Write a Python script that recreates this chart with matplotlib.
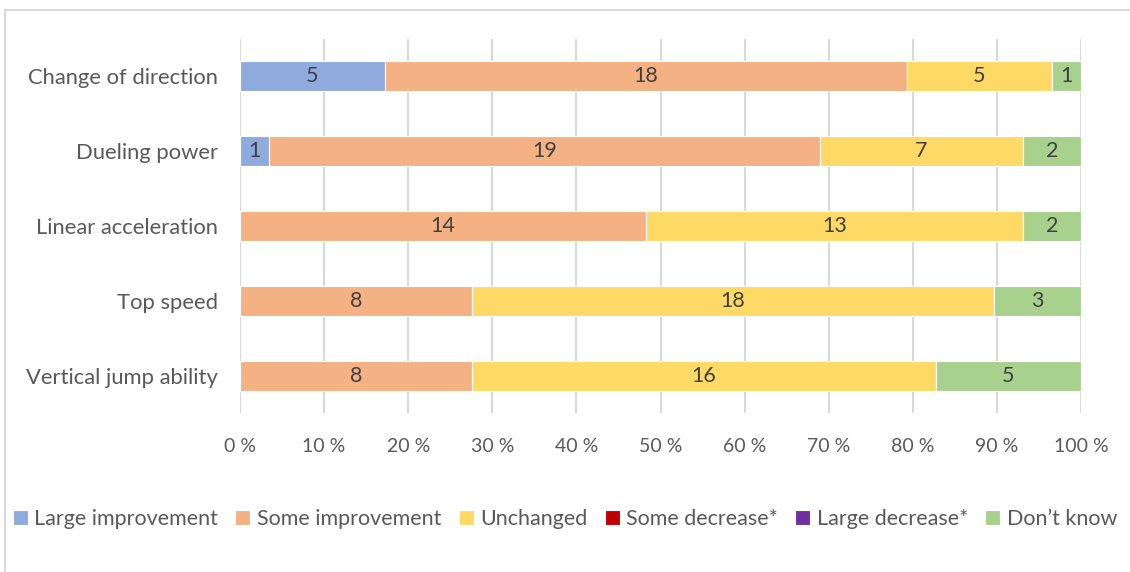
import numpy as np
import matplotlib.pyplot as plt
from matplotlib.patches import Rectangle

plt.rcParams['font.family'] = ['Lato', 'DejaVu Sans']

# --- Survey counts per attribute (top to bottom)
categories = ["Change of direction", "Dueling power", "Linear acceleration",
              "Top speed", "Vertical jump ability"]
series_names = ["Large improvement", "Some improvement", "Unchanged",
                "Some decrease*", "Large decrease*", "Don\u2019t know"]
large_improvement = [5, 1, 0, 0, 0]
some_improvement = [18, 19, 14, 8, 8]
unchanged = [5, 7, 13, 18, 16]
some_decrease = [0, 0, 0, 0, 0]
large_decrease = [0, 0, 0, 0, 0]
dont_know = [1, 2, 2, 3, 5]
tick_labels = ["0 %", "10 %", "20 %", "30 %", "40 %", "50 %",
               "60 %", "70 %", "80 %", "90 %", "100 %"]

colors = ["#8FAADC", "#F4B183", "#FFD966", "#C00000", "#7030A0", "#A9D18E"]

counts = np.array([large_improvement, some_improvement, unchanged,
                   some_decrease, large_decrease, dont_know], dtype=float)
totals = counts.sum(axis=0)
shares = counts / totals

fig = plt.figure(figsize=(11.3, 5.72), dpi=100)
ax = fig.add_axes([240 / 1130, 1 - 413 / 572, 841 / 1130, 374 / 572])

# chart frame
fig.add_artist(Rectangle((5 / 1130, -0.01), 1.1, 1 - 10 / 572 + 0.01,
                         transform=fig.transFigure, fill=False,
                         edgecolor="#D9D9D9", linewidth=1.5))

y = np.arange(len(categories))
left = np.zeros(len(categories))
for name, share, cnt, col in zip(series_names, shares, counts, colors):
    ax.barh(y, share, left=left, height=0.4, color=col, edgecolor="white",
            linewidth=0.8, label=name, zorder=3)
    for yi, l, s, c in zip(y, left, share, cnt):
        if c > 0:
            ax.text(l + s / 2, yi, f"{int(c)}", ha="center", va="center",
                    fontsize=15.5, color="#404040", zorder=4)
    left += share

ax.set_xlim(0, 1)
ax.set_ylim(len(categories) - 0.5, -0.5)
ax.set_yticks(y)
ax.set_yticklabels(categories, fontsize=15.8, color="#595959")
ax.set_xticks(np.linspace(0, 1, 11))
ax.set_xticklabels(tick_labels, fontsize=14, color="#595959")
ax.tick_params(axis="both", length=0)
ax.tick_params(axis="x", pad=18)
ax.tick_params(axis="y", pad=16)
ax.grid(axis="x", color="#D9D9D9", linewidth=1.5, zorder=0)
for s in ax.spines.values():
    s.set_visible(False)

fig.legend(loc="center", bbox_to_anchor=(0.5, 1 - 519 / 572), ncol=6,
           frameon=False, fontsize=15.5, handlelength=0.7, handleheight=0.7,
           handletextpad=0.3, columnspacing=0.8, labelcolor="#595959")

fig.savefig("out.png", dpi=100)
